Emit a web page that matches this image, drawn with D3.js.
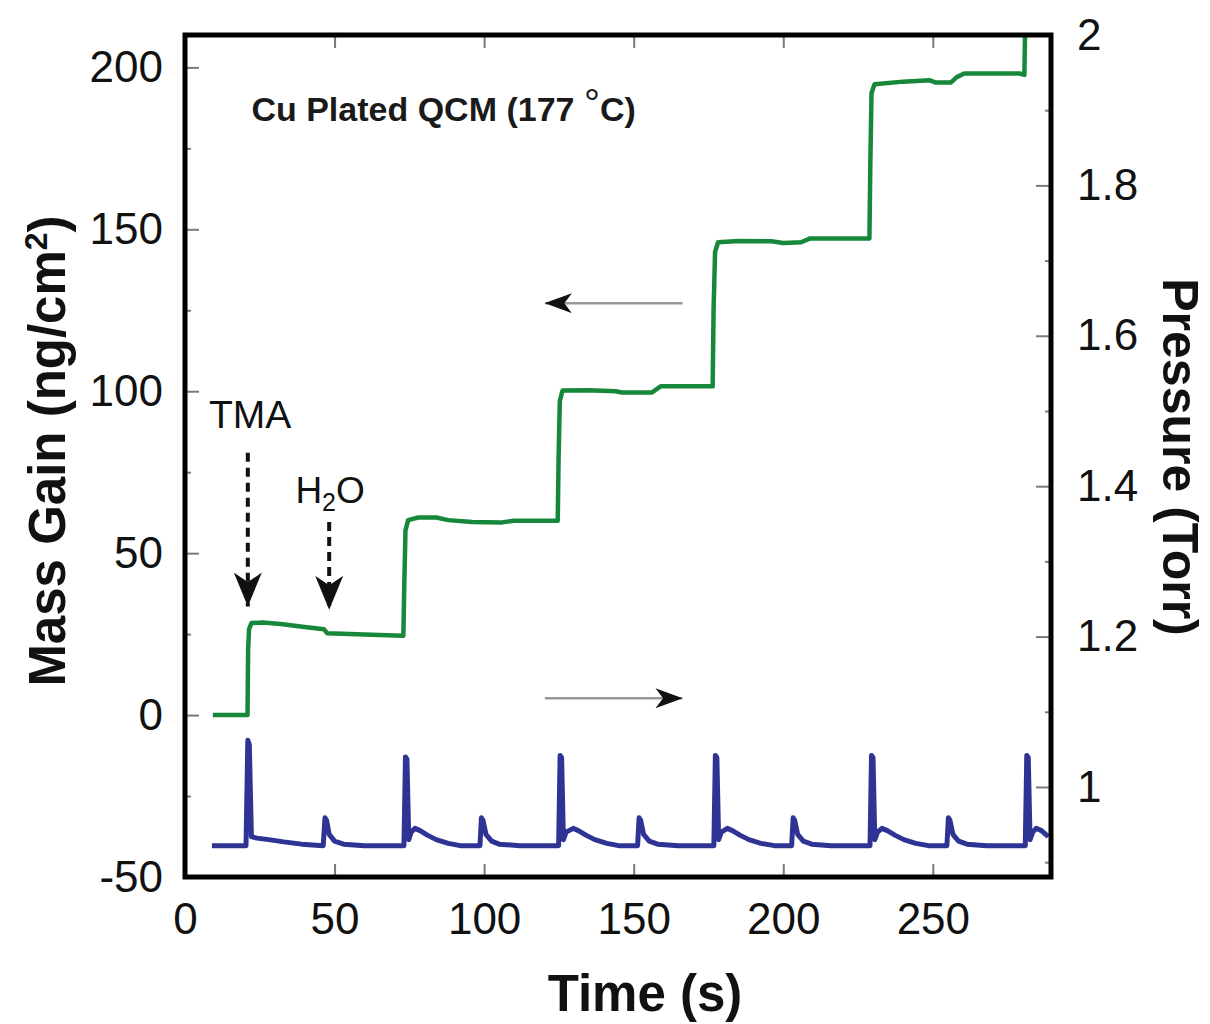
<!DOCTYPE html>
<html>
<head>
<meta charset="utf-8">
<script src="https://cdn.jsdelivr.net/npm/d3@7"></script>
<style>
  html, body { margin: 0; padding: 0; background: #fff; }
  svg { display: block; font-family: "Liberation Sans", Arial, Helvetica, sans-serif; }
</style>
</head>
<body>
<svg id="chart" width="1210" height="1024"></svg>
<script>
// QCM mass gain (left axis) and reactor pressure (right axis) during TMA / H2O cycles
const massGain = [
  [9.3, 0], [20.9, 0], [21.1, 20], [21.4, 26.5], [22.2, 28.4], [26, 28.6], [32, 28.1],
  [40, 27.2], [46.5, 26.5], [47.5, 25.3], [55, 25.0], [65, 24.7], [73.0, 24.5],
  [73.3, 40], [73.7, 57], [74.6, 60.2], [78, 61.0], [84, 61.0], [88, 60.2], [96, 59.6],
  [106, 59.5], [110, 60.0], [124.6, 60.0],
  [124.9, 80], [125.3, 97], [126.2, 100.2], [135, 100.3], [144, 100.0], [146, 99.6],
  [156, 99.6], [159, 101.5], [176.4, 101.5],
  [176.7, 125], [177.2, 143], [178.2, 146.0], [185, 146.4], [196, 146.3], [200, 145.8],
  [206, 146.0], [209, 147.2], [228.8, 147.2],
  [229.1, 170], [229.5, 192], [230.5, 194.8], [240, 195.6], [249, 196.0], [251, 195.3],
  [256, 195.3], [258, 197.0], [260.5, 198.1], [279, 198.1], [280.6, 197.7], [280.9, 215]
];

const pressure = [
  [9.0, 0.922], [20.4, 0.922], [21.0, 1.062], [21.5, 1.056], [22.2, 0.934], [24, 0.932],
  [28, 0.930], [33, 0.927], [39, 0.924], [46.2, 0.922], [46.8, 0.959], [47.3, 0.956],
  [48.2, 0.937], [50, 0.928], [53, 0.924], [60, 0.922],
  [73.2, 0.922], [73.7, 1.040], [74.2, 1.037], [74.8, 0.930], [75.6, 0.940], [76.9, 0.945],
  [78.6, 0.942], [81, 0.936], [84, 0.930], [88, 0.925], [92, 0.922], [98.6, 0.922],
  [99.1, 0.959], [99.6, 0.956], [100.6, 0.937], [102.5, 0.928], [105, 0.924], [112, 0.922],
  [124.9, 0.922], [125.4, 1.042], [125.9, 1.039], [126.5, 0.930], [127.4, 0.940], [129.8, 0.945],
  [131.5, 0.942], [134, 0.936], [137, 0.930], [141, 0.925], [145, 0.922], [151.3, 0.922],
  [151.8, 0.959], [152.3, 0.956], [153.3, 0.937], [155.2, 0.928], [158, 0.924], [165, 0.922],
  [176.8, 0.922], [177.3, 1.042], [177.8, 1.039], [178.4, 0.930], [179.3, 0.940], [181.3, 0.945],
  [183, 0.942], [185.5, 0.936], [188.5, 0.930], [192.5, 0.925], [197, 0.922], [202.8, 0.922],
  [203.3, 0.959], [203.8, 0.956], [204.8, 0.937], [206.7, 0.928], [209.5, 0.924], [216, 0.922],
  [229.0, 0.922], [229.5, 1.042], [230.0, 1.039], [230.6, 0.930], [231.5, 0.940], [233.0, 0.945],
  [234.8, 0.942], [237.3, 0.936], [240.3, 0.930], [244.3, 0.925], [248.5, 0.922], [254.7, 0.922],
  [255.2, 0.959], [255.7, 0.956], [256.7, 0.937], [258.6, 0.928], [261.4, 0.924], [268, 0.922],
  [280.9, 0.922], [281.4, 1.042], [281.9, 1.039], [282.5, 0.930], [283.4, 0.940], [284.6, 0.945],
  [286.3, 0.942], [288.6, 0.934]
];

const timeTicks = [0, 50, 100, 150, 200, 250];
const massTicks = [-50, 0, 50, 100, 150, 200];
const massMinorTicks = [-25, 25, 75, 125, 175];
const pressureTicks = [1, 1.2, 1.4, 1.6, 1.8, 2];
const pressureMinorTicks = [0.9, 1.1, 1.3, 1.5, 1.7, 1.9];

const svg = d3.select("#chart");
const plot = { left: 185, right: 1051, top: 35, bottom: 877 };

const x = d3.scaleLinear().domain([0, 289.5]).range([plot.left, plot.right]);
const yMass = d3.scaleLinear().domain([-50, 210]).range([plot.bottom, plot.top]);
const yPres = d3.scaleLinear().domain([0.8803, 2]).range([plot.bottom, plot.top]);

const tickColor = "#7a7a7a";
const labelFont = 44;
const plainNumber = d => String(+d.toFixed(2));

function styleAxis(g, showText) {
  g.select(".domain").remove();
  g.selectAll(".tick line").attr("stroke", tickColor).attr("stroke-width", 2);
  g.selectAll(".tick text")
    .attr("fill", "#111")
    .style("font-size", labelFont + "px")
    .style("display", showText ? null : "none");
}

// left axis (mass gain), ticks pointing inward
svg.append("g").attr("transform", `translate(${plot.left},0)`)
  .call(d3.axisLeft(yMass).tickValues(massMinorTicks).tickSize(-6).tickFormat(""))
  .call(g => styleAxis(g, false));
svg.append("g").attr("transform", `translate(${plot.left},0)`)
  .call(d3.axisLeft(yMass).tickValues(massTicks).tickSize(-14).tickPadding(22).tickFormat(plainNumber))
  .call(g => styleAxis(g, true));

// right axis (pressure)
svg.append("g").attr("transform", `translate(${plot.right},0)`)
  .call(d3.axisRight(yPres).tickValues(pressureMinorTicks).tickSize(-6).tickFormat(""))
  .call(g => styleAxis(g, false));
svg.append("g").attr("transform", `translate(${plot.right},0)`)
  .call(d3.axisRight(yPres).tickValues(pressureTicks).tickSize(-15).tickPadding(26).tickFormat(plainNumber))
  .call(g => styleAxis(g, true));

// bottom and top time axes
svg.append("g").attr("transform", `translate(0,${plot.bottom})`)
  .call(d3.axisBottom(x).tickValues(timeTicks).tickSize(-13).tickPadding(26).tickFormat(plainNumber))
  .call(g => styleAxis(g, true))
  .call(g => g.selectAll(".tick text").attr("dy", "0.71em"));
svg.append("g").attr("transform", `translate(0,${plot.top})`)
  .call(d3.axisTop(x).tickValues(timeTicks.slice(1)).tickSize(-13).tickFormat(""))
  .call(g => styleAxis(g, false));

// data traces, clipped to the frame
svg.append("clipPath").attr("id", "plotClip")
  .append("rect")
  .attr("x", plot.left).attr("y", plot.top)
  .attr("width", plot.right - plot.left).attr("height", plot.bottom - plot.top);

const traces = svg.append("g").attr("clip-path", "url(#plotClip)");

traces.append("path")
  .datum(pressure)
  .attr("fill", "none")
  .attr("stroke", "#2f3494")
  .attr("stroke-width", 5)
  .attr("stroke-linejoin", "round")
  .attr("d", d3.line().x(d => x(d[0])).y(d => yPres(d[1])));

traces.append("path")
  .datum(massGain)
  .attr("fill", "none")
  .attr("stroke", "#17873a")
  .attr("stroke-width", 4.5)
  .attr("stroke-linejoin", "round")
  .attr("d", d3.line().x(d => x(d[0])).y(d => yMass(d[1])));

// frame
svg.append("rect")
  .attr("x", plot.left).attr("y", plot.top)
  .attr("width", plot.right - plot.left).attr("height", plot.bottom - plot.top)
  .attr("fill", "none").attr("stroke", "#000").attr("stroke-width", 5);

// arrowhead markers
const defs = svg.append("defs");
function barb(id, len, wid) {
  defs.append("marker")
    .attr("id", id)
    .attr("markerUnits", "userSpaceOnUse")
    .attr("viewBox", `${-len} ${-wid / 2} ${len} ${wid}`)
    .attr("refX", 0).attr("refY", 0)
    .attr("markerWidth", len).attr("markerHeight", wid)
    .attr("orient", "auto")
    .append("path")
    .attr("d", `M0,0 L${-len},${-wid / 2} L${-len * 0.72},0 L${-len},${wid / 2} Z`)
    .attr("fill", "#111");
}
barb("bigBarb", 34, 28);
barb("smallBarb", 27, 20);

// precursor pulse annotations
const pulses = [
  { label: "TMA", t: 21.0, from: 81, to: 33.5 },
  { label: "H2O", t: 48.2, from: 59.6, to: 32.5 }
];
svg.selectAll(".pulseArrow").data(pulses).enter().append("line")
  .attr("class", "pulseArrow")
  .attr("x1", d => x(d.t)).attr("x2", d => x(d.t))
  .attr("y1", d => yMass(d.from)).attr("y2", d => yMass(d.to))
  .attr("stroke", "#111").attr("stroke-width", 4)
  .attr("stroke-dasharray", "9,6")
  .attr("marker-end", "url(#bigBarb)");

svg.append("text")
  .attr("x", x(21.8)).attr("y", yMass(88.6))
  .attr("text-anchor", "middle")
  .style("font-size", "39px").attr("fill", "#111")
  .text("TMA");

const h2o = svg.append("text")
  .attr("x", x(36.9)).attr("y", yMass(65.4))
  .style("font-size", "37px").attr("fill", "#111");
h2o.append("tspan").text("H");
h2o.append("tspan").attr("dy", 8).style("font-size", "25px").text("2");
h2o.append("tspan").attr("dy", -8).text("O");

// arrows pointing to each trace's axis
svg.append("line")
  .attr("x1", x(166.3)).attr("x2", x(120.3))
  .attr("y1", yMass(127.2)).attr("y2", yMass(127.2))
  .attr("stroke", "#9a9a9a").attr("stroke-width", 2.5)
  .attr("marker-end", "url(#smallBarb)");
svg.append("line")
  .attr("x1", x(120.3)).attr("x2", x(166.3))
  .attr("y1", yPres(1.118)).attr("y2", yPres(1.118))
  .attr("stroke", "#9a9a9a").attr("stroke-width", 2.5)
  .attr("marker-end", "url(#smallBarb)");

// inset label
const inset = svg.append("text")
  .attr("x", x(22.2)).attr("y", yMass(183.4))
  .style("font-size", "34px").style("font-weight", "bold").attr("fill", "#1a1a1a");
inset.append("tspan").text("Cu Plated QCM (177 ");
inset.append("tspan").attr("dy", -4).style("font-size", "40px").style("font-weight", "normal").text("°");
inset.append("tspan").attr("dy", 4).text("C)");

// axis titles
svg.append("text")
  .attr("transform", "translate(65,451) rotate(-90)")
  .attr("text-anchor", "middle")
  .style("font-size", "51px").style("font-weight", "bold").attr("fill", "#111")
  .call(t => {
    t.append("tspan").text("Mass Gain (ng/cm");
    t.append("tspan").attr("dy", -18).style("font-size", "32px").text("2");
    t.append("tspan").attr("dy", 18).text(")");
  });

svg.append("text")
  .attr("transform", "translate(1163,457) rotate(90)")
  .attr("text-anchor", "middle")
  .style("font-size", "50px").style("font-weight", "bold").attr("fill", "#111")
  .text("Pressure (Torr)");

svg.append("text")
  .attr("x", 645).attr("y", 1011)
  .attr("text-anchor", "middle")
  .style("font-size", "51px").style("font-weight", "bold").attr("fill", "#111")
  .text("Time (s)");
</script>
</body>
</html>
